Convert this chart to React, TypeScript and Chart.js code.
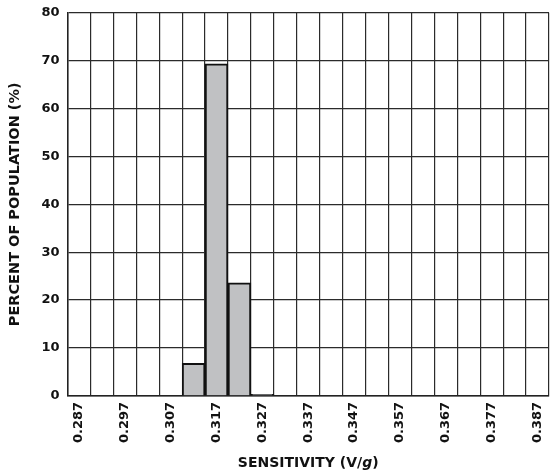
import React, { useEffect, useRef } from "react";
import { Chart, registerables } from "chart.js";

Chart.register(...registerables);

const categories: string[] = [
  "0.287", "0.292", "0.297", "0.302", "0.307", "0.312", "0.317", "0.322", "0.327", "0.332",
  "0.337", "0.342", "0.347", "0.352", "0.357", "0.362", "0.367", "0.372", "0.377", "0.382", "0.387",
];
const percentValues: number[] = [
  0, 0, 0, 0, 0, 6.8, 69.3, 23.6, 0.3, 0, 0, 0, 0, 0, 0, 0, 0, 0, 0, 0, 0,
];
const yTicks: number[] = [0, 10, 20, 30, 40, 50, 60, 70, 80];
const xTitleMain = "SENSITIVITY (V/";
const xTitleItalic = "g";
const xTitleEnd = ")";
const yTitle = "PERCENT OF POPULATION (%)";

const FONT = "'DejaVu Sans', 'Liberation Sans', Arial, sans-serif";

const xTitlePlugin = {
  id: "xTitleMixed",
  afterDraw(chart: any) {
    const ctx = chart.ctx;
    const area = chart.chartArea;
    const cx = (area.left + area.right) / 2;
    const y = chart.height - 5;
    ctx.save();
    ctx.fillStyle = "#111";
    ctx.textBaseline = "alphabetic";
    const fb = `bold 14px ${FONT}`;
    const fi = `italic bold 14px ${FONT}`;
    ctx.font = fb;
    const w1 = ctx.measureText(xTitleMain).width;
    const w3 = ctx.measureText(xTitleEnd).width;
    ctx.font = fi;
    const w2 = ctx.measureText(xTitleItalic).width;
    let x = cx - (w1 + w2 + w3) / 2;
    ctx.textAlign = "left";
    ctx.font = fb;
    ctx.fillText(xTitleMain, x, y);
    x += w1;
    ctx.font = fi;
    ctx.fillText(xTitleItalic, x, y);
    x += w2;
    ctx.font = fb;
    ctx.fillText(xTitleEnd, x, y);
    ctx.restore();
  },
};

export default function App() {
  const ref = useRef<HTMLCanvasElement | null>(null);
  useEffect(() => {
    if (!ref.current) return;
    const chart = new Chart(ref.current, {
      type: "bar",
      data: {
        labels: categories,
        datasets: [
          {
            data: percentValues,
            backgroundColor: "#c0c1c3",
            borderColor: "#111",
            borderWidth: 2,
            barPercentage: 1,
            categoryPercentage: 1,
          },
        ],
      },
      options: {
        animation: false,
        responsive: true,
        maintainAspectRatio: false,
        layout: { padding: { left: 5, right: 4, top: 12.7, bottom: 23 } },
        plugins: { legend: { display: false }, tooltip: { enabled: false } },
        scales: {
          x: {
            afterFit: (axis: any) => {
              axis.paddingRight = 0;
              axis.paddingLeft = 0;
            },
            grid: { color: "#2b2b2b", lineWidth: 1.2, drawTicks: false, offset: true },
            border: { color: "#222", width: 1.5 },
            ticks: {
              autoSkip: false,
              maxRotation: 90,
              minRotation: 90,
              padding: 6,
              color: "#111",
              font: { family: FONT, size: 13, weight: "bold" },
              callback: (_v: any, i: number) => (i % 2 === 0 ? categories[i] : ""),
            },
          },
          y: {
            min: yTicks[0],
            max: yTicks[yTicks.length - 1],
            afterBuildTicks: (axis: any) => {
              axis.ticks = yTicks.map((v) => ({ value: v }));
            },
            afterFit: (axis: any) => {
              axis.paddingTop = 0;
              axis.paddingBottom = 0;
            },
            grid: { color: "#2b2b2b", lineWidth: 1.2, drawTicks: false },
            border: { color: "#222", width: 1.5 },
            ticks: {
              padding: 8,
              color: "#111",
              font: { family: FONT, size: 13, weight: "bold" },
            },
            title: {
              display: true,
              text: yTitle,
              color: "#111",
              padding: { top: 2, bottom: 9 },
              font: { family: FONT, size: 14.5, weight: "bold" },
            },
          },
        },
      },
      plugins: [xTitlePlugin],
    });
    return () => chart.destroy();
  }, []);
  return (
    <div style={{ position: "fixed", left: 0, top: 0, width: 553, height: 472, background: "#fff" }}>
      <canvas ref={ref} />
    </div>
  );
}
